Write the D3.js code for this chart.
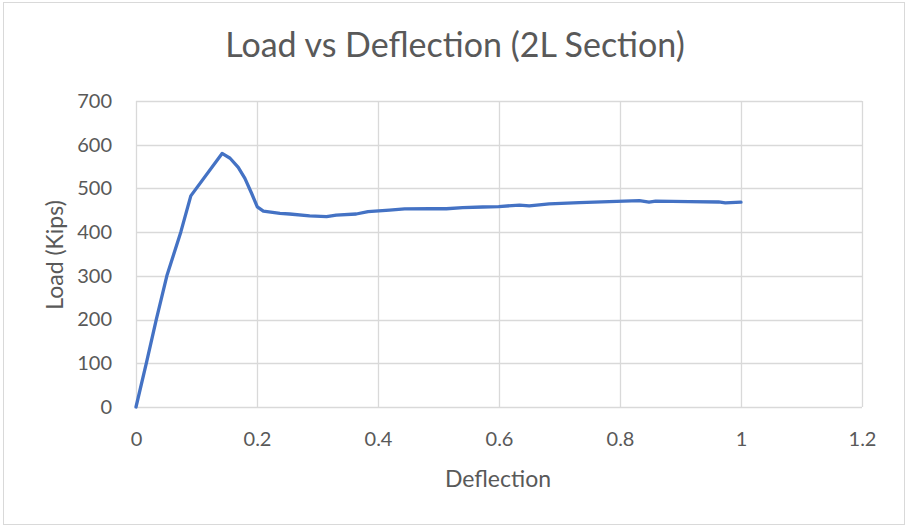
<!DOCTYPE html>
<html>
<head>
<meta charset="utf-8">
<script src="https://cdn.jsdelivr.net/npm/d3@7"></script>
<style>
  html, body { margin: 0; padding: 0; background: #fff; }
  svg { display: block; }
  text { font-family: Lato, "Open Sans", sans-serif; fill: #595959; }
</style>
</head>
<body>
<svg id="chart" width="907" height="527"></svg>
<script>
// Load–deflection test record for the 2L section
const deflection = [0, 0.017, 0.0335, 0.051, 0.074, 0.0906, 0.1423, 0.1555, 0.169, 0.180, 0.191,
  0.2005, 0.2105, 0.238, 0.254, 0.287, 0.315, 0.331, 0.364, 0.3835, 0.419, 0.444, 0.485,
  0.513, 0.540, 0.573, 0.5995, 0.634, 0.650, 0.683, 0.733, 0.782, 0.832, 0.848, 0.859,
  0.914, 0.963, 0.974, 1.0];
const load = [0, 100, 200, 300, 400, 483, 580, 569, 548, 523, 489,
  458, 448, 443, 441.5, 437, 435.5, 439, 441.5, 447, 450.5, 453, 453.5,
  453.5, 456, 457.5, 458.5, 462, 460, 464.5, 467.5, 470, 472, 468.5, 471,
  470, 469, 467, 468.5];

const xTicks = [0, 0.2, 0.4, 0.6, 0.8, 1, 1.2];
const yTicks = [0, 100, 200, 300, 400, 500, 600, 700];

const chartTitle = "Load vs Deflection (2L Section)";
const xTitle = "Deflection";
const yTitle = "Load (Kips)";

const svg = d3.select("#chart");
const W = 907, H = 527;
const plot = { left: 136, right: 862, top: 101, bottom: 407 };
const labelFont = "Lato, 'Open Sans', sans-serif";

// outer frame
svg.append("rect")
  .attr("x", 3.5).attr("y", 2.5)
  .attr("width", W - 6).attr("height", H - 5)
  .attr("fill", "#fff").attr("stroke", "#d9d9d9").attr("stroke-width", 1);

const x = d3.scaleLinear().domain([0, 1.2]).range([plot.left, plot.right]);
const y = d3.scaleLinear().domain([0, 700]).range([plot.bottom, plot.top]);

// gridlines
const grid = svg.append("g").attr("stroke", "#d9d9d9").attr("stroke-width", 1.3);
grid.selectAll("line.h").data(yTicks).join("line")
  .attr("x1", plot.left).attr("x2", plot.right)
  .attr("y1", d => Math.round(y(d)) + 0.5).attr("y2", d => Math.round(y(d)) + 0.5);
grid.selectAll("line.v").data(xTicks).join("line")
  .attr("y1", plot.top).attr("y2", plot.bottom)
  .attr("x1", d => Math.round(x(d)) + 0.5).attr("x2", d => Math.round(x(d)) + 0.5);

// axes: tick labels only, the frame comes from the gridlines
const xAxis = svg.append("g")
  .attr("transform", `translate(0,${plot.bottom})`)
  .call(d3.axisBottom(x).tickValues(xTicks).tickSize(0).tickPadding(25).tickFormat(d3.format("~g")));
xAxis.select(".domain").remove();
xAxis.selectAll("text").style("font-size", "20px").attr("fill", "#595959")
  .style("font-family", labelFont);

const yAxis = svg.append("g")
  .attr("transform", `translate(${plot.left},0)`)
  .call(d3.axisLeft(y).tickValues(yTicks).tickSize(0).tickPadding(24).tickFormat(d3.format("d")));
yAxis.select(".domain").remove();
yAxis.selectAll("text").style("font-size", "20px").attr("fill", "#595959")
  .style("font-family", labelFont);

// series
const pts = deflection.map((d, i) => [d, load[i]]);
svg.append("path")
  .datum(pts)
  .attr("fill", "none")
  .attr("stroke", "#4472c4")
  .attr("stroke-width", 3.3)
  .attr("stroke-linejoin", "round")
  .attr("stroke-linecap", "round")
  .attr("d", d3.line().x(d => x(d[0])).y(d => y(d[1])));

// titles
svg.append("text")
  .attr("x", 455).attr("y", 57)
  .attr("text-anchor", "middle")
  .style("font-size", "34px")
  .text(chartTitle);

svg.append("text")
  .attr("x", 498).attr("y", 487)
  .attr("text-anchor", "middle")
  .style("font-size", "23px")
  .text(xTitle);

svg.append("text")
  .attr("transform", "translate(63,255) rotate(-90)")
  .attr("text-anchor", "middle")
  .style("font-size", "23px")
  .text(yTitle);
</script>
</body>
</html>
